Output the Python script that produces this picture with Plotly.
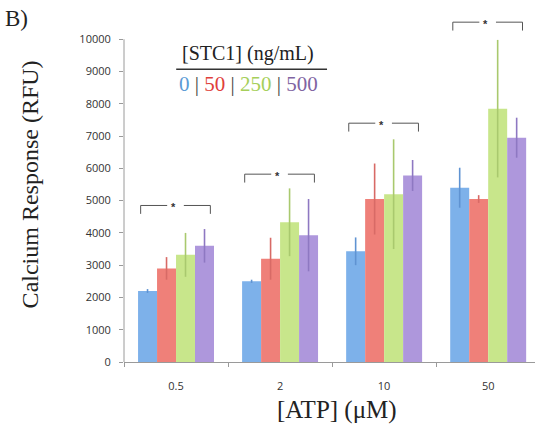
import plotly.graph_objects as go

# ---- data ----
atp_levels = ["0.5", "2", "10", "50"]
stc1_doses = ["0", "50", "250", "500"]

resp_0 = [2200, 2500, 3430, 5400]
resp_50 = [2900, 3200, 5050, 5050]
resp_250 = [3320, 4330, 5200, 7850]
resp_500 = [3600, 3930, 5780, 6950]

err_0 = [60, 50, 430, 620]
err_50 = [350, 650, 1100, 120]
err_250 = [680, 1050, 1700, 2130]
err_500 = [520, 1120, 480, 620]

sig_levels = [4850, 5820, 7400, 10530]   # significance bracket heights
y_tick_vals = [0, 1000, 2000, 3000, 4000, 5000, 6000, 7000, 8000, 9000, 10000]
y_tick_text = [str(v) for v in y_tick_vals]

# ---- styling ----
bar_colors = ["#7db1ea", "#ef8079", "#c8e68b", "#ae97dc"]
err_colors = ["#5f93d2", "#d86a66", "#a9c96e", "#8e78c2"]
legend_colors = ["#5b9bd5", "#e0403a", "#a6cf5a", "#8064a2"]

series_vals = [resp_0, resp_50, resp_250, resp_500]
series_errs = [err_0, err_50, err_250, err_500]

fig = go.Figure()
for dose, vals, errs, col, ecol in zip(stc1_doses, series_vals, series_errs, bar_colors, err_colors):
    fig.add_trace(go.Bar(
        x=atp_levels, y=vals, name=dose,
        marker=dict(color=col, line=dict(width=0)),
        error_y=dict(type="data", array=errs, visible=True, color=ecol, thickness=1.6, width=0),
        showlegend=False,
    ))

serif = "Liberation Serif"

# significance brackets
shapes = []
annotations = []
br_col = "#555555"
for i, lvl in enumerate(sig_levels):
    x0, x1 = i - 0.34, i + 0.33
    xm = (x0 + x1) / 2
    drop = 260
    shapes += [
        dict(type="line", xref="x", yref="y", x0=x0, x1=xm - 0.08, y0=lvl, y1=lvl, line=dict(color=br_col, width=1)),
        dict(type="line", xref="x", yref="y", x0=xm + 0.08, x1=x1, y0=lvl, y1=lvl, line=dict(color=br_col, width=1)),
        dict(type="line", xref="x", yref="y", x0=x0, x1=x0, y0=lvl, y1=lvl - drop, line=dict(color=br_col, width=1)),
        dict(type="line", xref="x", yref="y", x0=x1, x1=x1, y0=lvl, y1=lvl - drop, line=dict(color=br_col, width=1)),
    ]
    annotations.append(dict(x=xm - 0.02, y=lvl, xref="x", yref="y", text="<b>*</b>", showarrow=False,
                            font=dict(family="Liberation Sans", size=11, color="#333333"), yshift=-2))

# y axis line only up to 10000
shapes.append(dict(type="line", xref="paper", yref="y", x0=0, x1=0, y0=0, y1=10000,
                   line=dict(color="#9a9a9a", width=1)))

# legend-like header
annotations.append(dict(x=0.302, y=0.868, xref="paper", yref="paper", text="[STC1] (ng/mL)",
                        showarrow=False, font=dict(family=serif, size=20, color="#222"),
                        xanchor="center", yanchor="middle"))
shapes.append(dict(type="line", xref="paper", yref="paper", x0=0.127, x1=0.494, y0=0.825, y1=0.825,
                   line=dict(color="#333", width=1.5)))
sep = " <span style='color:#444'>|</span> "
legend_txt = sep.join(f"<span style='color:{c}'>{d}</span>" for d, c in zip(stc1_doses, legend_colors))
annotations.append(dict(x=0.302, y=0.782, xref="paper", yref="paper", text=legend_txt,
                        showarrow=False, font=dict(family=serif, size=21, color="#444"),
                        xanchor="center", yanchor="middle"))

# axis titles & panel label
annotations.append(dict(x=-0.229, y=0.5, xref="paper", yref="paper", text="Calcium Response (RFU)",
                        textangle=-90, showarrow=False, font=dict(family=serif, size=24, color="#222"),
                        xanchor="center", yanchor="middle"))
annotations.append(dict(x=0.518, y=-0.135, xref="paper", yref="paper", text="[ATP] (μM)",
                        showarrow=False, font=dict(family=serif, size=25, color="#222"),
                        xanchor="center", yanchor="middle"))
annotations.append(dict(x=-0.295, y=0.967, xref="paper", yref="paper", text="B)",
                        showarrow=False, font=dict(family=serif, size=23, color="#222"),
                        xanchor="left", yanchor="middle"))

fig.update_layout(
    width=535, height=440,
    margin=dict(l=124, r=0, t=7, b=78),
    paper_bgcolor="white", plot_bgcolor="white",
    barmode="group", bargap=0.27, bargroupgap=0,
    shapes=shapes, annotations=annotations,
    xaxis=dict(type="category", range=[-0.5, 3.45], showline=True, linecolor="#9a9a9a", linewidth=1,
               ticks="outside", tickson="boundaries", ticklen=4, tickcolor="#9a9a9a",
               tickfont=dict(family="Open Sans", size=11, color="#333"), ticklabelstandoff=14,
               showgrid=False, zeroline=False),
    yaxis=dict(range=[0, 11000], tickvals=y_tick_vals, ticktext=y_tick_text, showline=False,
               ticks="outside", ticklen=4,
               tickcolor="#9a9a9a", tickfont=dict(family="Open Sans", size=11, color="#333"),
               showgrid=False, zeroline=False, ticklabelstandoff=6),
)

fig.write_html("out.html")
